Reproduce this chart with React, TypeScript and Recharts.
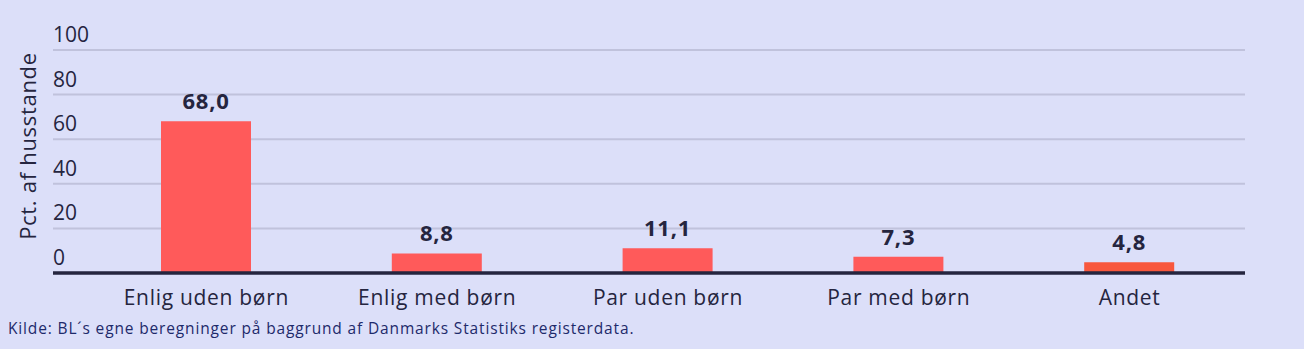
import React from 'react';
import { BarChart, Bar, XAxis, YAxis, CartesianGrid, LabelList, Cell, Label } from 'recharts';

const categories = ['Enlig uden børn', 'Enlig med børn', 'Par uden børn', 'Par med børn', 'Andet'];
const values = [68.0, 8.8, 11.1, 7.3, 4.8];
const barColors = ['#FF5A5A', '#FF5A5A', '#FF5A5A', '#FF5A5A', '#F8573D'];
const yTicks = [0, 20, 40, 60, 80, 100];

const data = categories.map((name, i) => ({ name, value: values[i] }));

const FONT = '"Open Sans", sans-serif';
const INK = '#25253f';

const YTick = (props: any) => {
  const { y, payload } = props;
  return (
    <text x={53} y={y - 8} textAnchor="start" fill={INK} fontSize={21} fontFamily={FONT}>
      {payload.value}
    </text>
  );
};

const App: React.FC = () => {
  return (
    <div style={{ position: 'absolute', left: 0, top: 0, width: 1304, height: 349, background: '#DCDFF9' }}>
      <BarChart
        width={1304}
        height={349}
        data={data}
        margin={{ top: 50, right: 59, bottom: 0, left: 0 }}
        barSize={90}
      >
        <CartesianGrid vertical={false} stroke="#C0C2DC" strokeWidth={2} />
        <XAxis
          dataKey="name"
          height={76}
          padding={{ left: 38, right: 0 }}
          axisLine={{ stroke: INK, strokeWidth: 3.5 }}
          tickLine={false}
          tick={{ fill: INK, fontSize: 21, fontFamily: FONT, dy: 9, letterSpacing: 0.7 }}
        />
        <YAxis
          domain={[0, 100]}
          ticks={yTicks}
          width={53}
          axisLine={false}
          tickLine={false}
          tick={<YTick />}
        >
          <Label
            content={() => (
              <text
                x={27}
                y={146}
                transform="rotate(-90, 27, 146)"
                textAnchor="middle"
                dominantBaseline="central"
                fill={INK}
                fontSize={22}
                fontFamily={FONT}
                letterSpacing={0.7}
              >
                Pct. af husstande
              </text>
            )}
          />
        </YAxis>
        <Bar dataKey="value" isAnimationActive={false}>
          {data.map((d, i) => (
            <Cell key={d.name} fill={barColors[i]} />
          ))}
          <LabelList
            dataKey="value"
            position="top"
            offset={12}
            formatter={(v: any) => Number(v).toFixed(1).replace('.', ',')}
            style={{ fill: INK, fontSize: 22, fontWeight: 700, fontFamily: FONT, letterSpacing: 0.8 }}
          />
        </Bar>
      </BarChart>
      <div
        style={{
          position: 'absolute',
          left: 8,
          top: 317,
          fontFamily: FONT,
          fontSize: 15.5,
          letterSpacing: 0.85,
          color: '#1E2A6B',
          whiteSpace: 'nowrap',
        }}
      >
        Kilde: BL´s egne beregninger på baggrund af Danmarks Statistiks registerdata.
      </div>
    </div>
  );
};

export default App;
